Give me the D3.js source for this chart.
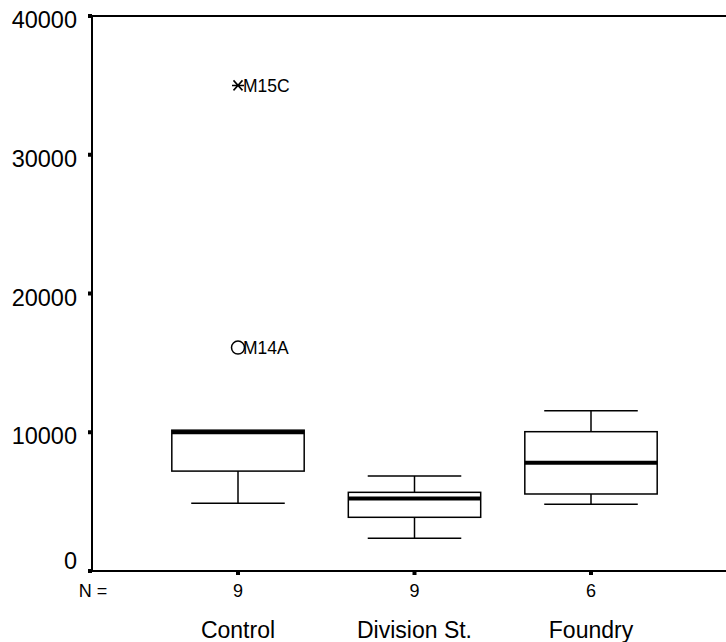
<!DOCTYPE html>
<html>
<head>
<meta charset="utf-8">
<script src="https://cdn.jsdelivr.net/npm/d3@7"></script>
<style>
  html, body { margin: 0; padding: 0; background: #fff; }
  svg { display: block; font-family: "Liberation Sans", Arial, sans-serif; }
</style>
</head>
<body>
<svg id="chart" width="726" height="642"></svg>
<script>
// Group summaries for the box plot
const categories   = ["Control", "Division St.", "Foundry"];
const counts       = [9, 9, 6];
const lowWhisker   = [4880, 2360, 4810];
const q1           = [7200, 3870, 5550];
const median       = [10000, 5220, 7800];
const q3           = [10150, 5670, 10040];
const highWhisker  = [10150, 6850, 11550];

// Flagged cases (circle = outlier, asterisk = extreme)
const outlierGroup = ["Control", "Control"];
const outlierValue = [16100, 35000];
const outlierLabel = ["M14A", "M15C"];
const outlierKind  = ["outlier", "extreme"];

const yTicks = [0, 10000, 20000, 30000, 40000];

const plotLeft = 92, plotRight = 726, plotTop = 16, plotBottom = 571;

const svg = d3.select("#chart");

const y = d3.scaleLinear().domain([0, 40000]).range([plotBottom, plotTop]);
const x = d3.scalePoint().domain(categories).range([238, 591]);
const step = x(categories[1]) - x(categories[0]);
const boxW = step * 0.75;
const capW = step * 0.53;

const groups = categories.map((c, i) => ({
  name: c, n: counts[i], lo: lowWhisker[i], q1: q1[i], med: median[i], q3: q3[i], hi: highWhisker[i]
}));

// Frame: left axis, baseline and top rule
const frame = svg.append("g").attr("stroke", "#000").attr("stroke-width", 2).attr("fill", "none");
frame.append("line").attr("x1", plotLeft).attr("x2", plotLeft).attr("y1", plotTop).attr("y2", plotBottom);
frame.append("line").attr("x1", plotLeft).attr("x2", plotRight).attr("y1", plotBottom).attr("y2", plotBottom);
frame.append("line").attr("x1", plotLeft).attr("x2", plotRight).attr("y1", plotTop).attr("y2", plotTop);

// Y axis ticks and labels
const yAxis = svg.append("g");
yAxis.selectAll("rect.ytick").data(yTicks).join("rect")
  .attr("class", "ytick")
  .attr("x", plotLeft - 4).attr("y", d => y(d) - 2)
  .attr("width", 4).attr("height", 4).attr("fill", "#000");
yAxis.selectAll("text").data(yTicks).join("text")
  .attr("x", 77)
  .attr("y", d => d === 0 ? plotBottom - 2 : y(d) + 12)
  .attr("text-anchor", "end")
  .attr("font-size", 23.5)
  .attr("fill", "#000")
  .text(d => d);

// Category tick squares on the baseline
svg.append("rect").attr("x", plotLeft - 4).attr("y", plotBottom - 2).attr("width", 4).attr("height", 4).attr("fill", "#000");
svg.selectAll("rect.xtick").data(categories).join("rect")
  .attr("class", "xtick")
  .attr("x", d => x(d) - 2).attr("y", plotBottom)
  .attr("width", 4).attr("height", 4).attr("fill", "#000");

// N = row and category names
svg.append("text").attr("x", plotLeft + 1).attr("y", 597)
  .attr("text-anchor", "middle").attr("font-size", 18).text("N =");
svg.selectAll("text.count").data(groups).join("text")
  .attr("class", "count")
  .attr("x", d => x(d.name)).attr("y", 597)
  .attr("text-anchor", "middle").attr("font-size", 18)
  .text(d => d.n);
svg.selectAll("text.cat").data(groups).join("text")
  .attr("class", "cat")
  .attr("x", d => x(d.name)).attr("y", 638)
  .attr("text-anchor", "middle").attr("font-size", 23)
  .text(d => d.name);

// Boxes
const box = svg.selectAll("g.box").data(groups).join("g").attr("class", "box")
  .attr("stroke", "#000").attr("fill", "none");
box.append("line").attr("stroke-width", 1.5)
  .attr("x1", d => x(d.name)).attr("x2", d => x(d.name))
  .attr("y1", d => y(d.hi)).attr("y2", d => y(d.q3));
box.append("line").attr("stroke-width", 1.5)
  .attr("x1", d => x(d.name)).attr("x2", d => x(d.name))
  .attr("y1", d => y(d.q1)).attr("y2", d => y(d.lo));
box.filter(d => d.hi > d.q3).append("line").attr("stroke-width", 1.5)
  .attr("x1", d => x(d.name) - capW / 2).attr("x2", d => x(d.name) + capW / 2)
  .attr("y1", d => y(d.hi)).attr("y2", d => y(d.hi));
box.append("line").attr("stroke-width", 1.5)
  .attr("x1", d => x(d.name) - capW / 2).attr("x2", d => x(d.name) + capW / 2)
  .attr("y1", d => y(d.lo)).attr("y2", d => y(d.lo));
box.append("rect").attr("stroke-width", 1.5)
  .attr("x", d => x(d.name) - boxW / 2).attr("width", boxW)
  .attr("y", d => y(d.q3)).attr("height", d => y(d.q1) - y(d.q3));
box.append("line").attr("stroke-width", 4)
  .attr("x1", d => x(d.name) - boxW / 2).attr("x2", d => x(d.name) + boxW / 2)
  .attr("y1", d => y(d.med)).attr("y2", d => y(d.med));

// Flagged cases
const outliers = outlierValue.map((v, i) => ({ g: outlierGroup[i], v, label: outlierLabel[i], kind: outlierKind[i] }));
const og = svg.selectAll("g.out").data(outliers).join("g").attr("class", "out")
  .attr("transform", d => `translate(${x(d.g)},${y(d.v)})`);
og.filter(d => d.kind === "outlier").append("circle")
  .attr("r", 6.5).attr("fill", "none").attr("stroke", "#000").attr("stroke-width", 1.5);
og.filter(d => d.kind === "extreme").append("path")
  .attr("d", "M-6,0H6M-4.5,-5L4.5,5M-4.5,5L4.5,-5")
  .attr("fill", "none").attr("stroke", "#000").attr("stroke-width", 1.5);
og.append("text").attr("x", 5).attr("y", 6.5)
  .attr("font-size", 17.5).attr("fill", "#000")
  .text(d => d.label);
</script>
</body>
</html>
